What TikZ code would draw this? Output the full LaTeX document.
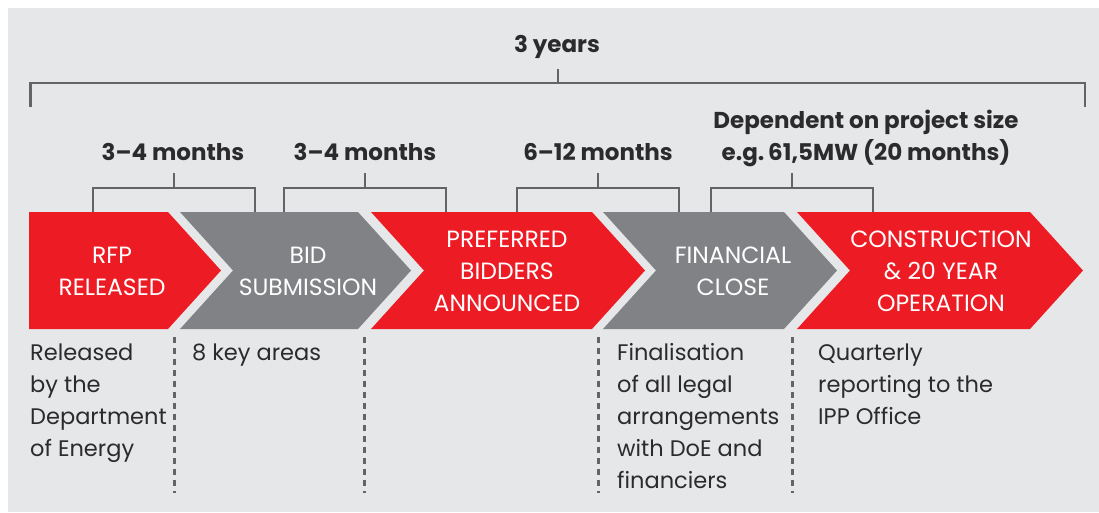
\documentclass[tikz,border=0pt]{standalone}
\usepackage{fontspec}
\setmainfont{Poppins}
\definecolor{stagered}{HTML}{ED1C24}
\definecolor{stagegray}{HTML}{808285}
\definecolor{panel}{HTML}{E6E7E8}
\definecolor{ink}{HTML}{2B2A2C}
\definecolor{rule}{HTML}{636466}

\begin{document}
\begin{tikzpicture}[x=1pt, y=-1pt,
    stage/.style={text=white, align=center, inner sep=0pt, font=\fontsize{23.5}{32}\selectfont},
    period/.style={text=ink, anchor=base, inner sep=0pt, font=\fontsize{23}{32}\selectfont\bfseries},
    note/.style={text=ink, align=left, anchor=base west, inner sep=0pt, font=\fontsize{22.5}{32}\selectfont},
    bracket/.style={draw=rule, line width=2.6pt},
    divider/.style={draw=rule, line width=3pt, dash pattern=on 6pt off 5pt}]

	% panel
	\fill[white] (0,0) rectangle (1099,512);
	\fill[panel] (8,8) rectangle (1099,512);

	% stages
	\fill[stagered] (29,212) -- (168,212) -- (221,270.5) -- (168,329) -- (29,329) -- cycle;
	\fill[stagegray] (180,212) -- (358,212) -- (411,270.5) -- (358,329) -- (180,329) -- (233,270.5) -- cycle;
	\fill[stagered] (371,212) -- (592,212) -- (645,270.5) -- (592,329) -- (371,329) -- (424,270.5) -- cycle;
	\fill[stagegray] (603,212) -- (784,212) -- (837,270.5) -- (784,329) -- (603,329) -- (656,270.5) -- cycle;
	\fill[stagered] (797,212) -- (1030,212) -- (1083,270.5) -- (1030,329) -- (797,329) -- (850,270.5) -- cycle;

	\node[stage] (rfp) at (112,271.5) {RFP\\RELEASED};
	\node[stage] (bid) at (308,271.5) {BID\\SUBMISSION};
	\node[stage] (pref) at (507,271.5) {PREFERRED\\BIDDERS\\ANNOUNCED};
	\node[stage] (close) at (733,271.5) {FINANCIAL\\CLOSE};
	\node[stage] (build) at (941,271.5) {CONSTRUCTION\\\& 20 YEAR\\OPERATION};

	% brackets
	\draw[bracket] (30.5,107) -- (30.5,83) -- (1085,83) -- (1085,107);
	\draw[bracket] (558,83) -- (558,69);
	\node[period] (total) at (557,52) {3 years};

	\draw[bracket] (93,212) -- (93,188) -- (255,188) -- (255,212);
	\draw[bracket] (174,188) -- (174,173);
	\draw[bracket] (284,212) -- (284,188) -- (446,188) -- (446,212);
	\draw[bracket] (365,188) -- (365,173);
	\draw[bracket] (517,212) -- (517,188) -- (679,188) -- (679,212);
	\draw[bracket] (598,188) -- (598,173);
	\draw[bracket] (711,212) -- (711,188) -- (873,188) -- (873,212);
	\draw[bracket] (792,188) -- (792,173);

	\node[period] (rfpt) at (173,160) {3–4 months};
	\node[period] (bidt) at (365,160) {3–4 months};
	\node[period] (preft) at (598,160) {6–12 months};
	\node[period] (sizet) at (866,128) {Dependent on project size};
	\node[period] (sizeeg) at (866,160) {e.g.\,61,5MW (20 months)};

	% notes (anchored on the last line)
	\draw[divider] (174,337) -- (174,493);
	\draw[divider] (364,337) -- (364,493);
	\draw[divider] (598,337) -- (598,493);
	\draw[divider] (792,337) -- (792,493);

	\node[note] (rfpn) at (30,456) {Released\\by the\\Department\\of Energy};
	\node[note] (bidn) at (192,360) {8 key areas};
	\node[note] (closen) at (617,488) {Finalisation\\of all legal\\arrangements\\with DoE and\\financiers};
	\node[note] (buildn) at (818,424) {Quarterly\\reporting to the\\IPP Office};

\end{tikzpicture}
\end{document}
